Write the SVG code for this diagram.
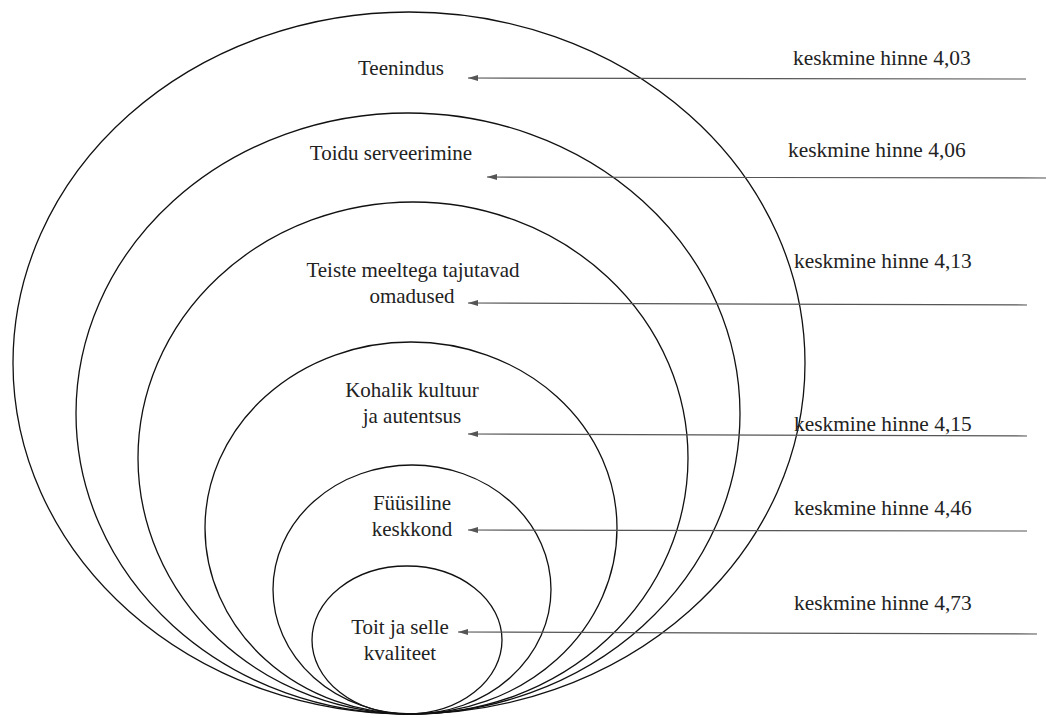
<svg xmlns="http://www.w3.org/2000/svg" width="1046" height="718" viewBox="0 0 1046 718">
<defs>
<marker id="ah" markerWidth="10" markerHeight="8" refX="10" refY="4" orient="auto" markerUnits="userSpaceOnUse">
<path d="M0,1 L10,4 L0,7 Z" fill="#555"/>
</marker>
<style>
.ring{fill:none;stroke:#111;stroke-width:1.3}
.lbl{font-size:21px;fill:#222;text-anchor:middle}
.val{font-size:21.4px;fill:#222}
.conn{stroke:#555;stroke-width:1.2;fill:none}
</style>
</defs>
<rect width="1046" height="718" fill="#fff"/>
<g font-family="Liberation Serif, Times New Roman, DejaVu Serif, serif">
<g id="n-teenindus">
<ellipse class="ring" cx="409" cy="363" rx="396" ry="351"/>
<text class="lbl" x="401" y="75">Teenindus</text>
</g>
<g id="n-toidu">
<ellipse class="ring" cx="408" cy="413.5" rx="332" ry="300.5"/>
<text class="lbl" x="391" y="160">Toidu serveerimine</text>
</g>
<g id="n-teiste">
<ellipse class="ring" cx="413" cy="458" rx="275" ry="256"/>
<text class="lbl" x="413" y="277">Teiste meeltega tajutavad</text>
<text class="lbl" x="412" y="303">omadused</text>
</g>
<g id="n-kohalik">
<ellipse class="ring" cx="411" cy="528" rx="206" ry="186"/>
<text class="lbl" x="412" y="397">Kohalik kultuur</text>
<text class="lbl" x="412" y="423">ja autentsus</text>
</g>
<g id="n-fuusiline">
<ellipse class="ring" cx="412" cy="589.5" rx="139" ry="124.5"/>
<text class="lbl" x="412" y="510">Füüsiline</text>
<text class="lbl" x="412" y="536">keskkond</text>
</g>
<g id="n-toit">
<ellipse class="ring" cx="407" cy="640" rx="95" ry="74"/>
<text class="lbl" x="400" y="634">Toit ja selle</text>
<text class="lbl" x="400" y="660">kvaliteet</text>
</g>
<g id="connectors">
<line class="conn" x1="1026" y1="79" x2="468" y2="78" marker-end="url(#ah)"/>
<line class="conn" x1="1046" y1="178" x2="487" y2="177" marker-end="url(#ah)"/>
<line class="conn" x1="1027" y1="305" x2="468" y2="303" marker-end="url(#ah)"/>
<line class="conn" x1="1027" y1="436" x2="468" y2="434" marker-end="url(#ah)"/>
<line class="conn" x1="1027" y1="531" x2="468" y2="530" marker-end="url(#ah)"/>
<line class="conn" x1="1037" y1="634" x2="458" y2="632" marker-end="url(#ah)"/>
</g>
<g id="values">
<text class="val" x="793" y="65">keskmine hinne 4,03</text>
<text class="val" x="788" y="157">keskmine hinne 4,06</text>
<text class="val" x="794" y="268">keskmine hinne 4,13</text>
<text class="val" x="794" y="431">keskmine hinne 4,15</text>
<text class="val" x="794" y="515">keskmine hinne 4,46</text>
<text class="val" x="794" y="610">keskmine hinne 4,73</text>
</g>
</g>
</svg>
